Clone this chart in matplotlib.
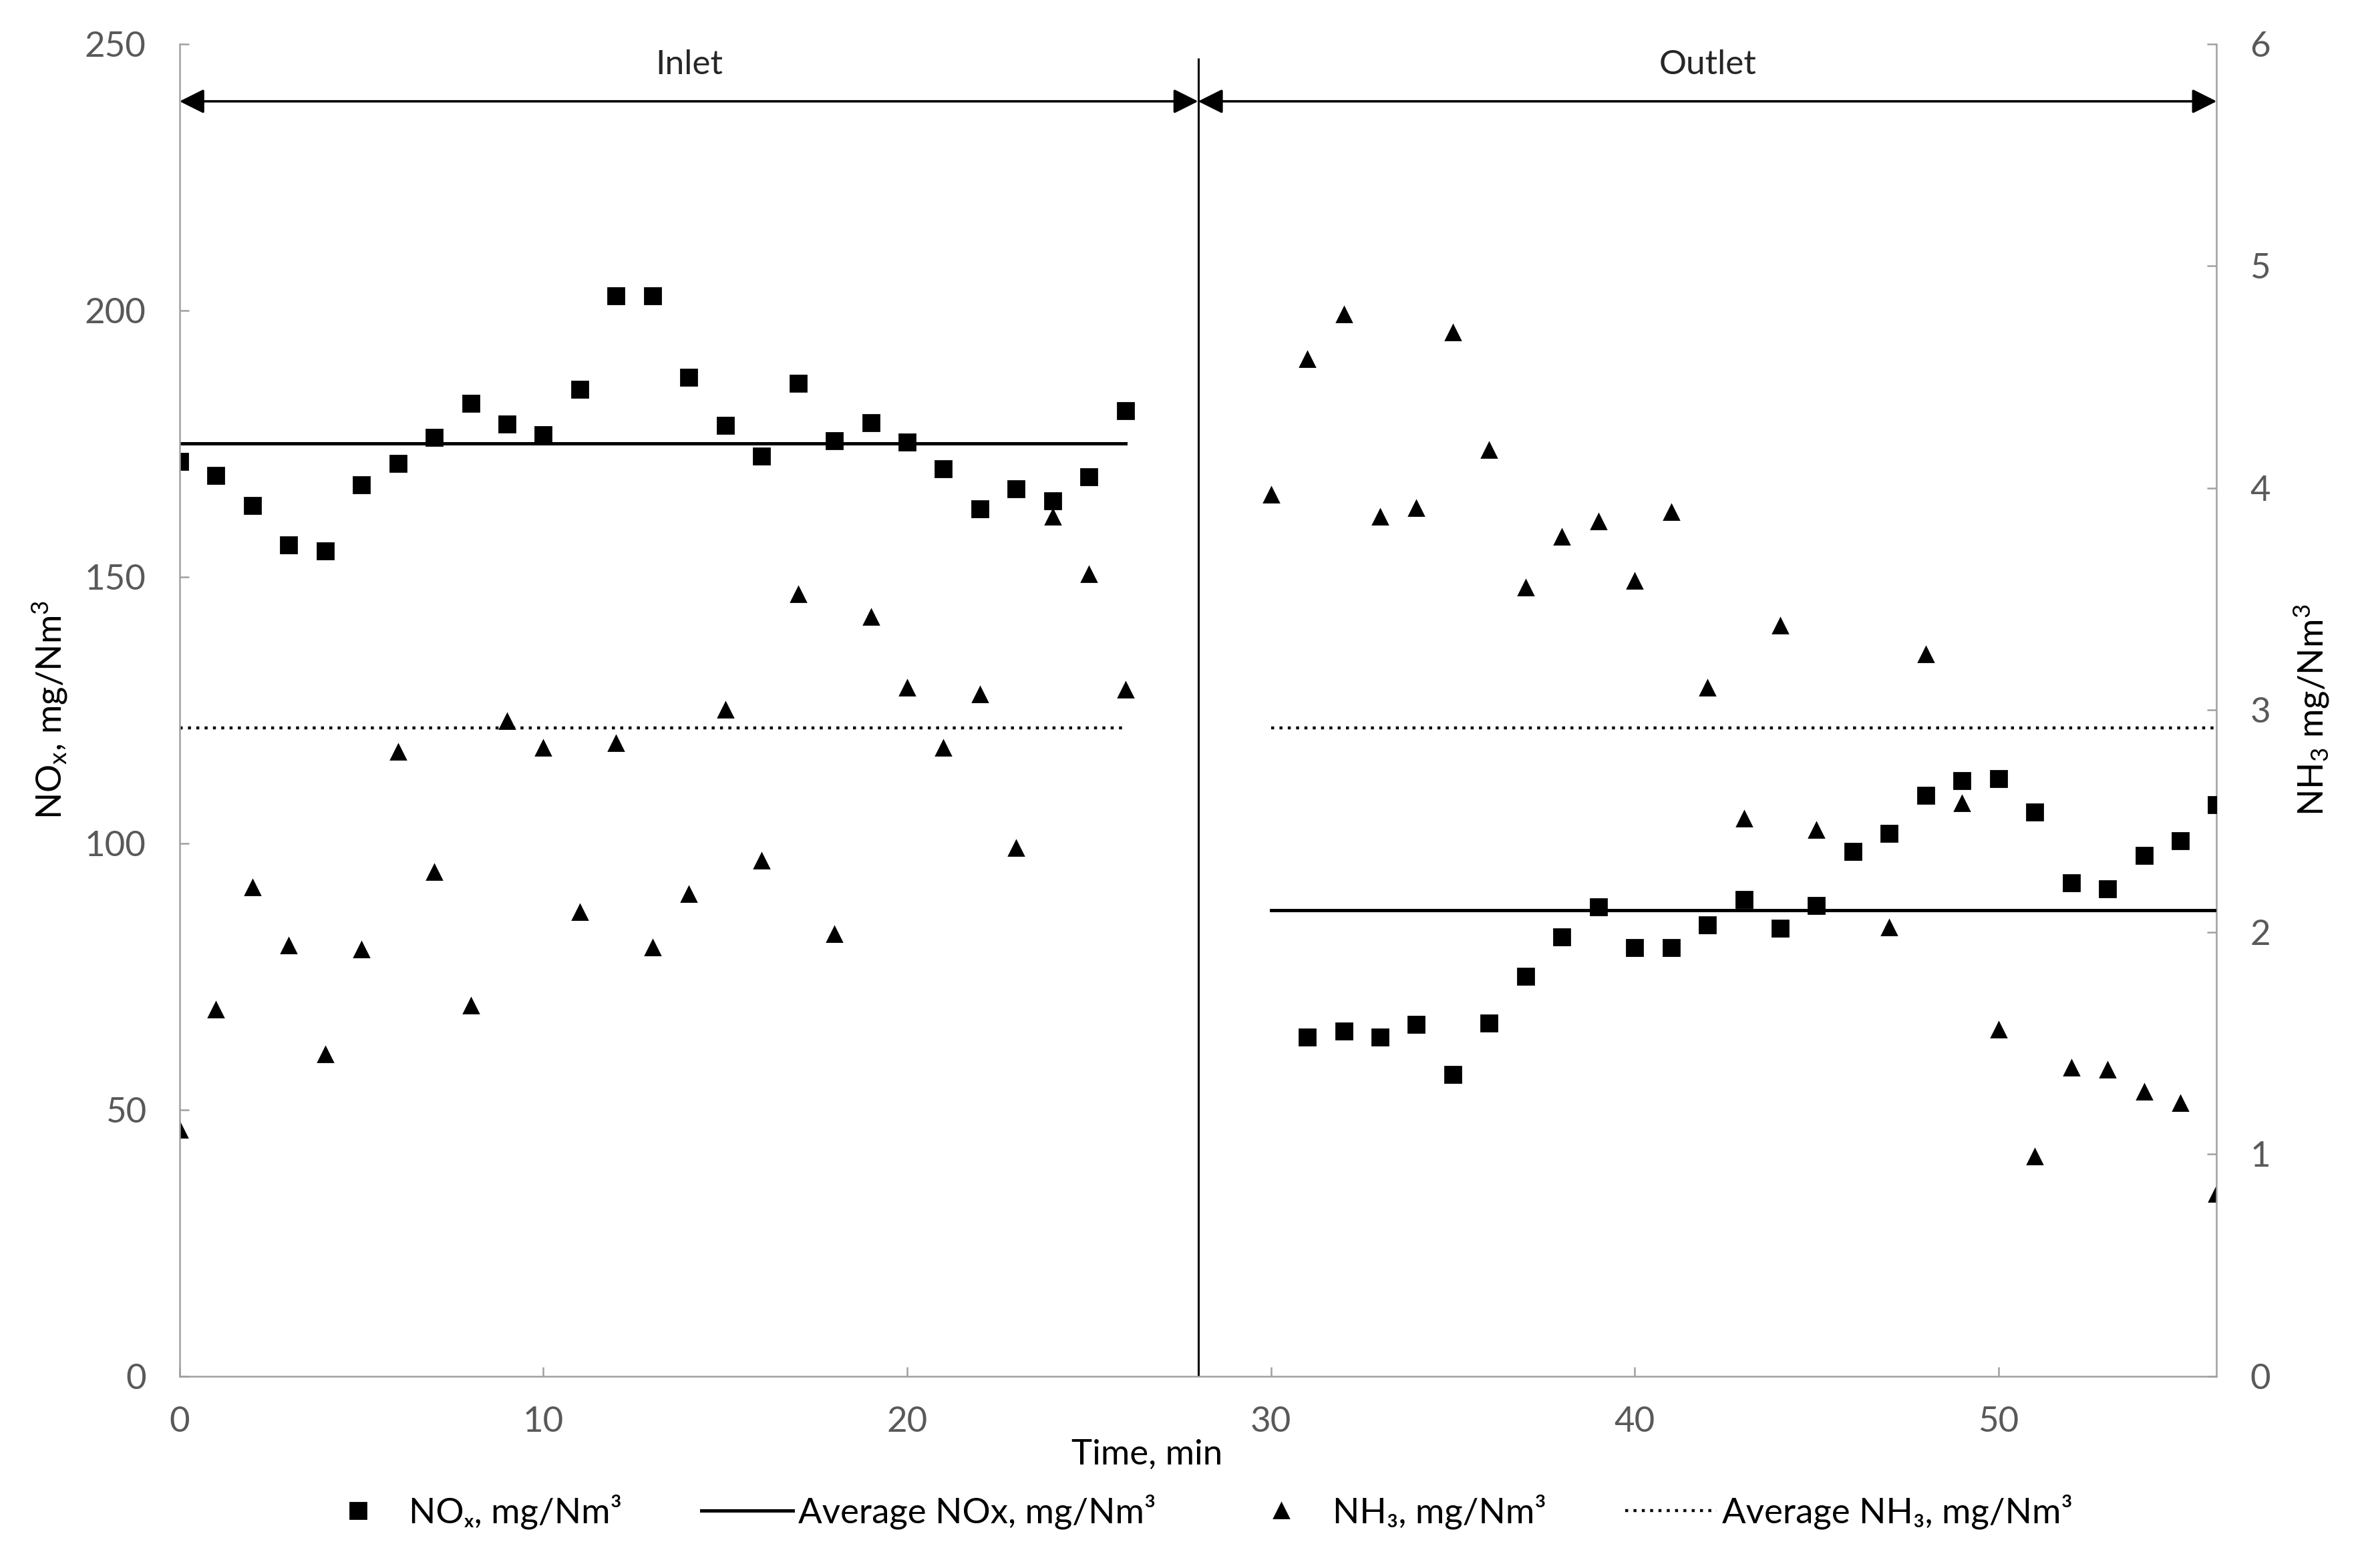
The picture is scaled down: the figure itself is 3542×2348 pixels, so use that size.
import numpy as np
import matplotlib as mpl
mpl.use('Agg')
import matplotlib.pyplot as plt
from matplotlib.lines import Line2D

plt.rcParams['font.family'] = ['Lato', 'DejaVu Sans']
plt.rcParams['mathtext.fontset'] = 'custom'
plt.rcParams['mathtext.rm'] = 'Lato'
plt.rcParams['mathtext.it'] = 'Lato:italic'
plt.rcParams['mathtext.bf'] = 'Lato:bold'

# time, min
t_inlet = np.arange(0, 27)
t_outlet_nox = np.arange(31, 57)
t_outlet_nh3 = np.arange(30, 57)

# NOx, mg/Nm3
nox_inlet = [171.6, 169.0, 163.4, 156.0, 154.9, 167.3, 171.3, 176.1, 182.6,
             178.7, 176.7, 185.2, 202.7, 202.7, 187.4, 178.4, 172.7, 186.3,
             175.5, 178.9, 175.3, 170.2, 162.8, 166.5, 164.2, 168.7, 181.2]
nox_outlet = [63.7, 64.8, 63.7, 66.0, 56.6, 66.3, 75.0, 82.4, 88.1, 80.4,
              80.4, 84.7, 89.5, 84.1, 88.3, 98.5, 101.9, 109.0, 111.8, 112.1,
              105.9, 92.6, 91.4, 97.7, 100.5, 107.3]

# NH3, mg/Nm3
nh3_inlet = [1.11, 1.65, 2.20, 1.94, 1.45, 1.92, 2.81, 2.27, 1.67, 2.95,
             2.83, 2.09, 2.85, 1.93, 2.17, 3.00, 2.32, 3.52, 1.99, 3.42,
             3.10, 2.83, 3.07, 2.38, 3.87, 3.61, 3.09]
nh3_outlet = [3.97, 4.58, 4.78, 3.87, 3.91, 4.70, 4.17, 3.55, 3.78, 3.85,
              3.58, 3.89, 3.10, 2.51, 3.38, 2.46, 2.36, 2.02, 3.25, 2.58,
              1.56, 0.99, 1.39, 1.38, 1.28, 1.23, 0.82]

# averages and their time spans
avg_nox = [175.0, 87.5]
avg_nh3 = [2.92, 2.92]
avg_spans = [(0, 26), (30, 56)]

sections = ['Inlet', 'Outlet']
section_edges = [0, 28, 56]

GRAY = '#a0a0a0'
TICK = '#595959'

fig = plt.figure(figsize=(17.71, 11.74), dpi=200)
ax = fig.add_axes([0.0759, 0.1222, 0.861, 0.8499])
ax2 = ax.twinx()
ax.set_zorder(ax2.get_zorder() + 1)
ax.patch.set_visible(False)

# NH3 on the right axis
ax2.plot(t_inlet, nh3_inlet, ls='none', marker='^', ms=7.8, color='black')
ax2.plot(t_outlet_nh3, nh3_outlet, ls='none', marker='^', ms=7.8, color='black')
for (x0, x1), v in zip(avg_spans, avg_nh3):
    ax2.plot([x0, x1], [v, v], color='black', lw=1.6, ls=(0, (1, 1.8)))

# NOx on the left axis
ax.plot(t_inlet, nox_inlet, ls='none', marker='s', ms=8.3, color='black')
ax.plot(t_outlet_nox, nox_outlet, ls='none', marker='s', ms=8.3, color='black')
for (x0, x1), v in zip(avg_spans, avg_nox):
    ax.plot([x0, x1], [v, v], color='black', lw=1.8)

# divider and section arrows
ax.vlines(section_edges[1], 0, 247.3, color='black', lw=1.1)
for i, name in enumerate(sections):
    x0, x1 = section_edges[i], section_edges[i + 1]
    ax.annotate('', xy=(x1, 239.2), xytext=(x0, 239.2),
                arrowprops=dict(arrowstyle='<|-|>', color='black', lw=1.3,
                                shrinkA=0, shrinkB=0, mutation_scale=28))
    ax.text((x0 + x1) / 2, 246.0, name, ha='center', va='center',
            fontsize=18.5, color='#262626')

ax.set_xlim(0, 56)
ax.set_ylim(0, 250)
ax2.set_ylim(0, 6)
ax.set_xticks(np.arange(0, 51, 10))
ax.set_yticks(np.arange(0, 251, 50))
ax2.set_yticks(np.arange(0, 7, 1))

for a in (ax, ax2):
    for s in a.spines.values():
        s.set_color(GRAY)
        s.set_linewidth(0.9)
    a.spines['top'].set_visible(False)
ax.spines['right'].set_visible(False)
ax2.spines['left'].set_visible(False)
ax2.spines['bottom'].set_visible(False)

ax.tick_params(axis='both', direction='in', length=5, width=0.9, color=GRAY,
               labelsize=19, labelcolor=TICK)
ax.tick_params(axis='x', pad=16)
ax.tick_params(axis='y', pad=18)
ax2.tick_params(axis='y', direction='in', length=5, width=0.9, color=GRAY,
                labelsize=19, labelcolor=TICK, pad=18)

ax.set_xlabel('Time, min', fontsize=19, color='black')
ax.xaxis.set_label_coords(0.475, -0.047)
ax.set_ylabel(r'NO$_\mathregular{x}$, mg/Nm$^\mathregular{3}$', fontsize=19)
ax.yaxis.set_label_coords(-0.054, 0.5)
ax2.set_ylabel(r'NH$_\mathregular{3}$ mg/Nm$^\mathregular{3}$', fontsize=19)
ax2.yaxis.set_label_coords(1.037, 0.5)

handles = [
    Line2D([], [], ls='none', marker='s', ms=8.3, color='black'),
    Line2D([], [], color='black', lw=1.8),
    Line2D([], [], ls='none', marker='^', ms=7.8, color='black'),
    Line2D([], [], color='black', lw=1.6, ls=(0, (1, 1.8))),
]
labels = ['NOₓ, mg/Nm³', 'Average NOx, mg/Nm³', 'NH₃, mg/Nm³',
          'Average NH₃, mg/Nm³']
fig.legend(handles, labels, loc='center', bbox_to_anchor=(0.504, 0.036),
           ncol=4, frameon=False, fontsize=19, handlelength=2.6,
           handletextpad=0.15, columnspacing=2.25, numpoints=1)

fig.savefig('out.png', dpi=200)
